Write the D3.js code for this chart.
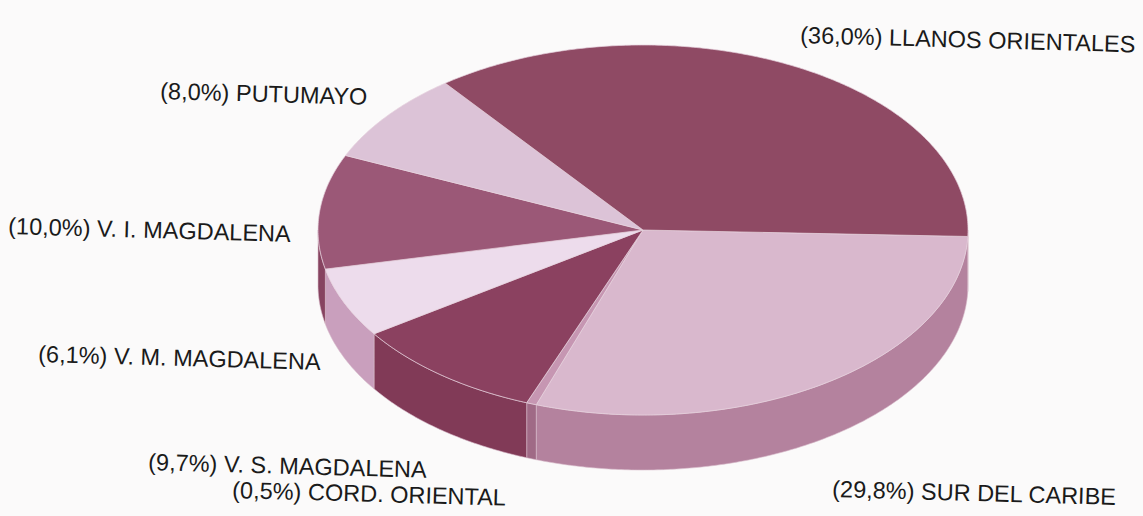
<!DOCTYPE html>
<html>
<head>
<meta charset="utf-8">
<script src="https://cdn.jsdelivr.net/npm/d3@7"></script>
<style>
  body { margin: 0; background: #fbfafa; }
  text { font-family: "Liberation Sans", Arial, sans-serif; fill: #1a1a1a; }
</style>
</head>
<body>
<div id="chart"></div>
<script>
// Data, clockwise starting just below the right edge
const categories = ["SUR DEL CARIBE", "CORD. ORIENTAL", "V. S. MAGDALENA", "V. M. MAGDALENA",
                    "V. I. MAGDALENA", "PUTUMAYO", "LLANOS ORIENTALES"];
const shares = [29.8, 0.5, 9.7, 6.1, 10.0, 8.0, 36.0];
const topColors = ["#d9b8cd", "#c696b2", "#8b4160", "#eddcec", "#9b5877", "#dcc3d7", "#8f4a64"];
const sideColors = ["#b4829e", "#a06a86", "#813a57", "#c99fbd", "#864360", "#c5a3bb", "#7e3d56"];
// label anchor points (start, baseline)
const labelPos = [[832, 497], [232, 498], [148, 470], [38, 362], [8, 234], [160, 99], [800, 43]];

const width = 1143;
const height = 516;
const cx = 643, cy = 230, rx = 325, ry = 185, depth = 55;

const svg = d3.select("#chart").append("svg")
    .attr("width", width)
    .attr("height", height);

const pie = d3.pie()
    .sort(null)
    .value(d => d)
    .startAngle(92 * Math.PI / 180)
    .endAngle(92 * Math.PI / 180 + 2 * Math.PI);

const arcs = pie(shares);

// angle measured clockwise from north, projected onto the ellipse
function pt(a, dy) {
    return [cx + rx * Math.sin(a), cy - ry * Math.cos(a) + (dy || 0)];
}

function arcPoints(a0, a1, dy) {
    const n = Math.max(2, Math.ceil(Math.abs(a1 - a0) / 0.01));
    return d3.range(n + 1).map(i => pt(a0 + (a1 - a0) * i / n, dy));
}

const line = d3.line();

// Side walls (only the front half of the rim shows)
const windows = [[Math.PI / 2, 3 * Math.PI / 2], [5 * Math.PI / 2, 7 * Math.PI / 2]];
arcs.forEach((d, i) => {
    windows.forEach(w => {
        const s = Math.max(d.startAngle, w[0]);
        const e = Math.min(d.endAngle, w[1]);
        if (e <= s) return;
        const pts = arcPoints(s, e, 0).concat(arcPoints(e, s, depth));
        svg.append("path")
            .attr("d", line(pts) + "Z")
            .attr("fill", sideColors[i])
            .attr("stroke", "#d8bccb")
            .attr("stroke-width", 0.6);
    });
});

// Top faces
svg.selectAll("path.top")
    .data(arcs)
    .enter()
    .append("path")
    .attr("class", "top")
    .attr("d", d => line([[cx, cy]].concat(arcPoints(d.startAngle, d.endAngle, 0))) + "Z")
    .attr("fill", (d, i) => topColors[i])
    .attr("stroke", "#e6d3de")
    .attr("stroke-width", 0.7);

// Labels
svg.selectAll("text.lab")
    .data(categories)
    .enter()
    .append("text")
    .attr("class", "lab")
    .attr("x", (d, i) => labelPos[i][0])
    .attr("y", (d, i) => labelPos[i][1])
    .attr("transform", (d, i) => `rotate(1.6,${labelPos[i][0]},${labelPos[i][1]})`)
    .attr("font-size", 23.5)
    .text((d, i) => "(" + shares[i].toFixed(1).replace(".", ",") + "%) " + d);
</script>
</body>
</html>
